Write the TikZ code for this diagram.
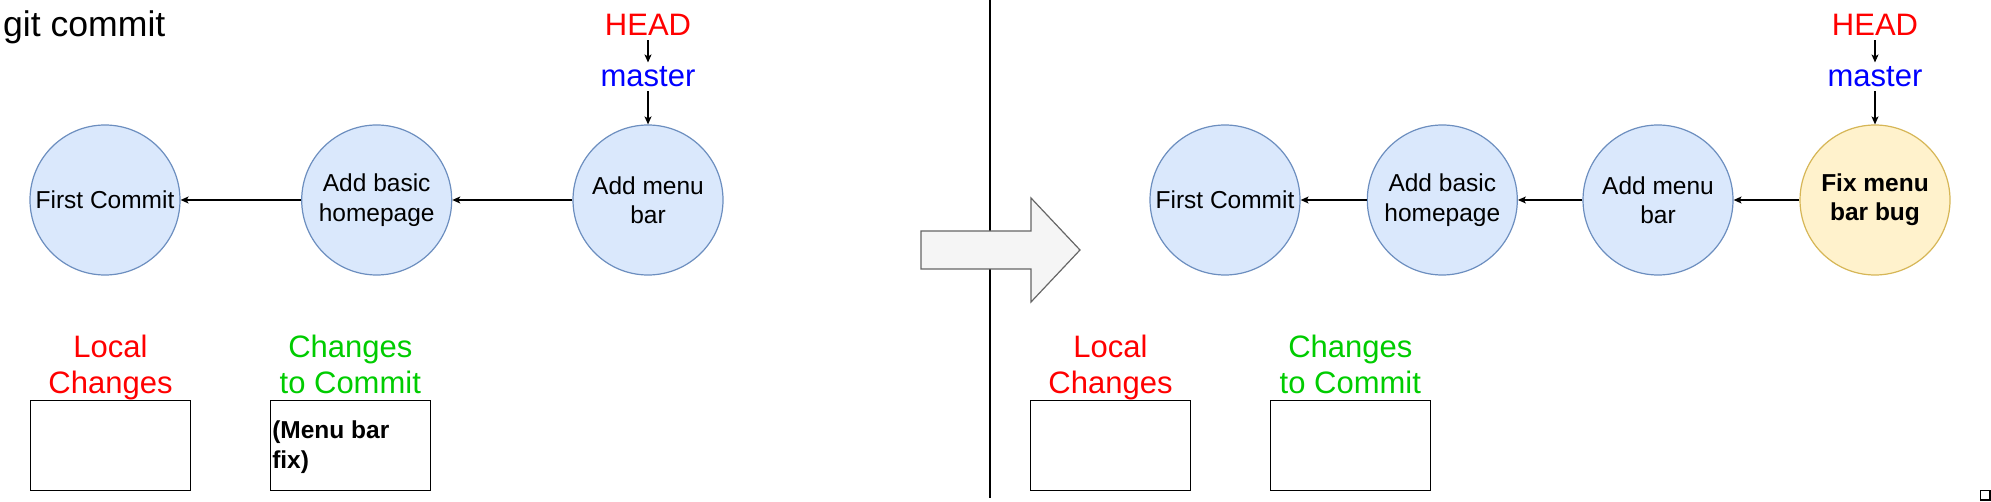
\documentclass[tikz,border=0pt]{standalone}
\usepackage{fontspec}
\setmainfont{Liberation Sans}
\usetikzlibrary{arrows.meta}
\definecolor{commitFill}{HTML}{DAE8FC}
\definecolor{commitLine}{HTML}{6C8EBF}
\definecolor{newFill}{HTML}{FFF2CC}
\definecolor{newLine}{HTML}{D6B656}
\definecolor{flowFill}{HTML}{F5F5F5}
\definecolor{flowLine}{HTML}{666666}
\definecolor{localRed}{HTML}{FF0000}
\definecolor{branchBlue}{HTML}{0000FF}
\definecolor{stagedGreen}{HTML}{00CC00}
\newcommand\commitSize{150pt}
\newcommand\areaWidth{160pt}
\newcommand\areaHeight{90pt}
\newcommand\areaDist{239.8}
\newcommand\drawAreas[2]{
	\node[area] (#1local) at (#2,445.3) {};
	\node[area] (#1staged) at (#2+\areaDist,445.3) {};
	\node[areatitle, text=localRed] (#1localtitle) at (#2,367.6) {Local\\Changes};
	\node[areatitle, text=stagedGreen] (#1stagedtitle) at (#2+\areaDist,364.4) {Changes\\to Commit};
}
\tikzset{
	commit/.style={circle, draw=commitLine, fill=commitFill, line width=1.2pt,
		minimum size=\commitSize, inner sep=0pt, align=center,
		font=\fontsize{24.5}{29.4}\selectfont},
	newcommit/.style={commit, draw=newLine, fill=newFill,
		font=\fontsize{24.5}{29.4}\selectfont\bfseries},
	parent/.style={-{Stealth[length=8pt,width=7pt,inset=2pt]}, line width=1.2pt},
	ref/.style={anchor=base, inner sep=4pt, font=\fontsize{31}{37}\selectfont},
	area/.style={draw, line width=1.3pt, minimum width=\areaWidth,
		minimum height=\areaHeight, inner sep=0pt},
	areatitle/.style={align=center, inner sep=0pt, font=\fontsize{31}{36.7}\selectfont}
}
\begin{document}
\begin{tikzpicture}[x=1pt, y=-1pt]
	\useasboundingbox (0,0) rectangle (1991,502);
	
	\node[anchor=base west, inner sep=0pt, font=\fontsize{35.6}{42}\selectfont] (title) at (3,36.7) {git commit};
	
	% before
	\foreach \i/\x/\txt in {1/105/First Commit, 2/376.7/{Add basic\\homepage}, 3/648/{Add menu\\bar}}{
		\node[commit] (l\i) at (\x,200) {\txt};
	}
	\foreach \i/\j in {2/1,3/2}{
		\draw[parent] (l\i) -- (l\j);
	}
	\node[ref, text=localRed] (lhead) at (648,36) {HEAD};
	\node[ref, text=branchBlue] (lmaster) at (648,86.7) {master};
	\draw[parent] (lhead) -- (lmaster);
	\draw[parent] (lmaster) -- (l3);
	
	\drawAreas{l}{110.5}
	\node[anchor=north west, inner sep=0pt, align=left, font=\fontsize{24.5}{30.7}\selectfont\bfseries]
		(lstagedtext) at ([xshift=2.4pt, yshift=-20.4pt]lstaged.north west) {(Menu bar\\fix)};
	
	% divider and big arrow
	\draw[line width=1.2pt] (990,0) to (990,498);
	\draw[line width=1.2pt, draw=flowLine, fill=flowFill]
		(921,231) to (1031,231) to (1031,198) to (1080,250) to
		(1031,302) to (1031,269) to (921,269) to cycle;
	
	% after
	\foreach \i/\x/\txt in {1/1225/First Commit, 2/1442.3/{Add basic\\homepage}, 3/1658/{Add menu\\bar}}{
		\node[commit] (r\i) at (\x,200) {\txt};
	}
	\node[newcommit] (r4) at (1875,200) {Fix menu\\bar bug};
	\foreach \i/\j in {2/1,3/2,4/3}{
		\draw[parent] (r\i) -- (r\j);
	}
	\node[ref, text=localRed] (rhead) at (1875,36) {HEAD};
	\node[ref, text=branchBlue] (rmaster) at (1875,86.7) {master};
	\draw[parent] (rhead) -- (rmaster);
	\draw[parent] (rmaster) -- (r4);
	
	\drawAreas{r}{1110.5}
	
	\draw[line width=1.3pt] (1980.5,490.5) rectangle (1990,500);
\end{tikzpicture}
\end{document}
